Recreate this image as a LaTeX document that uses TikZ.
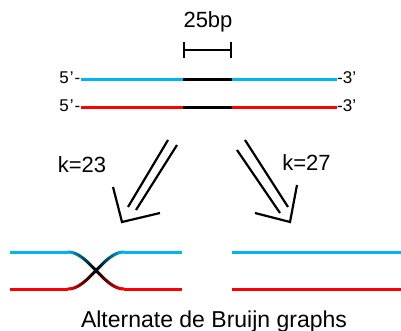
\documentclass[tikz,border=0pt]{standalone}
\usepackage{fontspec}
\setmainfont{Liberation Sans}
\definecolor{lb}{RGB}{0,180,245}
\definecolor{rd}{RGB}{255,0,0}
\begin{document}
\begin{tikzpicture}[x=1pt,y=-1pt,
  strand/.style={line width=3pt},
  arr/.style={line width=2.2pt, line join=miter},
  lbl/.style={font=\fontsize{22}{26}\selectfont, inner sep=0pt, anchor=base},
  endlbl/.style={font=\fontsize{17}{20}\selectfont, inner sep=0pt}]
\useasboundingbox (0,0) rectangle (401,331);
% scale bar
\node[lbl] (bp) at (208,28) {25bp};
\draw[line width=2.8pt] (184,42) -- (184,58) (231,42) -- (231,58) (184,50) -- (231,50);
% strands
\node[endlbl, anchor=base east] (b5) at (80.5,83.5) {5\kern0.06em’\kern0.06em-};
\node[endlbl, anchor=base west] (b3) at (337,83.5) {-3’};
\node[endlbl, anchor=base east] (r5) at (80.5,111.5) {5\kern0.06em’\kern0.06em-};
\node[endlbl, anchor=base west] (r3) at (337,111.5) {-3’};
\coordinate (bA) at (81,79.5); \coordinate (bB) at (183,79.5);
\coordinate (bC) at (232,79.5); \coordinate (bD) at (337,79.5);
\coordinate (rA) at (81,107.5); \coordinate (rB) at (183,107.5);
\coordinate (rC) at (232,107.5); \coordinate (rD) at (337,107.5);
\draw[strand, lb] (bA) -- (bB);
\draw[strand, black] (bB) -- (bC);
\draw[strand, lb] (bC) -- (bD);
\draw[strand, rd] (rA) -- (rB);
\draw[strand, black] (rB) -- (rC);
\draw[strand, rd] (rC) -- (rD);
% arrows
\node[lbl] (k23) at (82,172) {k=23};
\node[lbl] (k27) at (306.5,171) {k=27};
\draw[arr] (168,140) -- (128,207);
\draw[arr] (177,145) -- (136,210);
\draw[arr] (113,187) -- (122,222) -- (160,213);
\draw[arr] (237,150) -- (280,213);
\draw[arr] (245,140) -- (288,207);
\draw[arr] (255,213) -- (290,222) -- (297,185);
% left graph
\draw[strand, lb] (10,252) -- (68,252);
\draw[strand, rd] (10,289) -- (68,289);
\draw[strand, lb] (124,252) -- (182,252);
\draw[strand, rd] (124,289) -- (182,289);
\foreach \i in {0,...,27}{
  \pgfmathsetmacro{\xa}{68+2*\i}
  \pgfmathsetmacro{\xb}{70+2*\i}
  \pgfmathsetmacro{\ya}{270.5-18.5*cos(180*(\xa-68)/56)}
  \pgfmathsetmacro{\yb}{270.5-18.5*cos(180*(\xb-68)/56)}
  \pgfmathsetmacro{\yc}{541-\ya}
  \pgfmathsetmacro{\yd}{541-\yb}
  \pgfmathtruncatemacro{\p}{abs(\xa+1-96)/28*100}
  \ifnum\i<14 \def\ca{lb!\p!black}\def\cb{rd!\p!black}\else \def\ca{rd!\p!black}\def\cb{lb!\p!black}\fi
  \draw[line width=3pt, line cap=round, color=\ca] (\xa,\ya) -- (\xb,\yb);
  \draw[line width=3pt, line cap=round, color=\cb] (\xa,\yc) -- (\xb,\yd);
}
% right graph
\draw[strand, lb] (232,252) -- (401,252);
\draw[strand, rd] (232,289) -- (401,289);
\node[lbl, font=\fontsize{23}{27}\selectfont] (title) at (214,327) {Alternate de Bruijn graphs};
\end{tikzpicture}
\end{document}
